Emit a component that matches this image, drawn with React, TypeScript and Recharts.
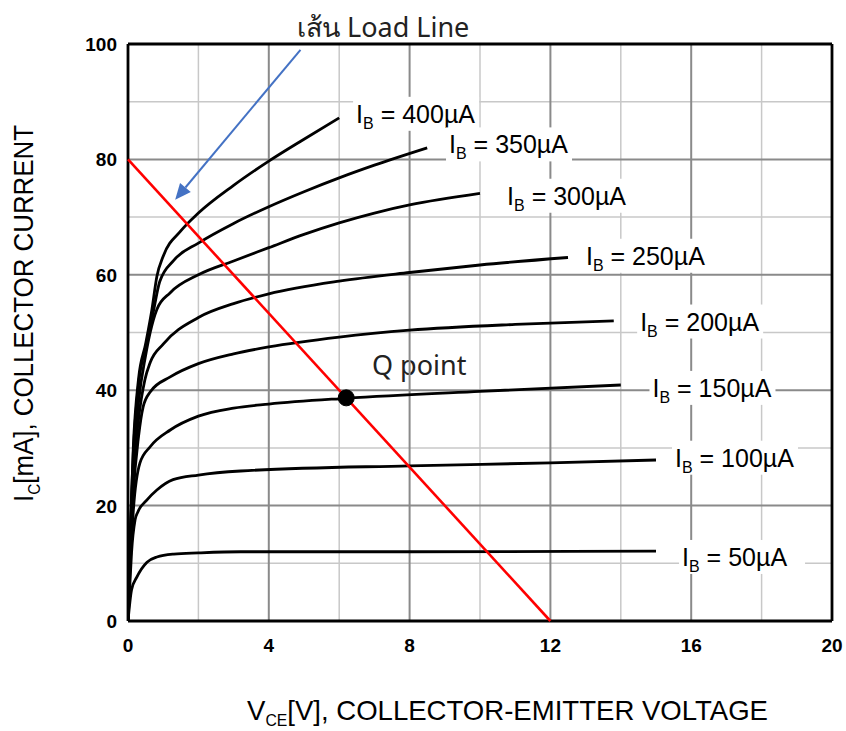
import React from 'react';
import {
  LineChart,
  Line,
  XAxis,
  YAxis,
  CartesianGrid,
  ReferenceLine,
  ReferenceDot,
  Customized,
} from 'recharts';

// axis ticks
const vTicks = [0, 4, 8, 12, 16, 20];
const iTicks = [0, 20, 40, 60, 80, 100];
const vMinor = [2, 6, 10, 14, 18];
const iMinor = [10, 30, 50, 70, 90];
const vMajor = [4, 8, 12, 16];
const iMajor = [20, 40, 60, 80];

// [VCE (V), IC (mA)]
const ib400 = [[0, 0], [0.05, 12], [0.15, 30], [0.3, 42], [0.5, 48], [0.68, 54], [0.82, 59.7], [1, 63.2], [1.5, 67.6], [2, 70.7], [3, 75.5], [4, 79.7], [5, 83.5], [6, 87.2]];
const ib350 = [[0, 0], [0.05, 12], [0.15, 29], [0.3, 41], [0.5, 47.5], [0.7, 53], [0.9, 58.8], [1.3, 62.5], [2, 65.5], [3, 68.9], [4, 71.8], [5, 74.4], [6, 76.8], [7, 79], [8.5, 82]];
const ib300 = [[0, 0], [0.05, 11], [0.15, 27], [0.3, 38], [0.5, 46], [0.63, 50], [0.82, 54], [1.2, 56.9], [2, 60], [3, 62.4], [4, 64.7], [5, 67], [6, 69], [7, 70.7], [8, 72.1], [10, 74.1]];
const ib250 = [[0, 0], [0.05, 10], [0.15, 25], [0.3, 35], [0.48, 41.8], [0.63, 44.8], [1, 48], [2, 52.6], [3, 55], [4, 56.7], [6, 58.9], [8, 60.4], [10, 61.7], [12.5, 63]];
const ib200 = [[0, 0], [0.05, 9], [0.15, 22], [0.3, 32], [0.43, 37.1], [0.63, 39.7], [1.2, 42.3], [2, 44.6], [3, 46.3], [4, 47.5], [6, 49.2], [8, 50.4], [11, 51.4], [13.8, 52]];
const ib150 = [[0, 0], [0.05, 8], [0.15, 19], [0.34, 27.4], [0.63, 30.2], [1.2, 33.1], [2, 35.5], [3, 36.9], [4, 37.6], [6.2, 38.6], [10, 39.8], [14, 40.9]];
const ib100 = [[0, 0], [0.05, 6], [0.1, 11.8], [0.2, 17.5], [0.28, 18.9], [0.54, 21], [0.82, 22.7], [1.28, 24.5], [2, 25.3], [3.2, 26], [8, 26.9], [12, 27.4], [15, 27.9]];
const ib50 = [[0, 0], [0.1, 5.4], [0.25, 7.6], [0.54, 10.2], [0.82, 11.1], [1.3, 11.6], [2, 11.8], [3.2, 12], [8, 12], [15, 12.1]];

const ibNames = ['400', '350', '300', '250', '200', '150', '100', '50'];
const ibSeries = [ib400, ib350, ib300, ib250, ib200, ib150, ib100, ib50];
// where each I_B label sits (left edge, middle), in V / mA
const ibLabelV = [6.48, 9.12, 10.77, 13.01, 14.55, 14.9, 15.54, 15.74];
const ibLabelI = [87.9, 82.6, 73.7, 63.3, 51.9, 40.4, 28.3, 11.1];

// load line: VCC = 12 V, IC(sat) = 80 mA ; Q point
const loadLine = [[0, 80], [12, 0]];
const qPoint = [6.2, 38.67];
const arrowFrom = [4.9, 99];
const arrowTo = [1.34, 73];

const toRows = (pts: number[][]) => pts.map(([v, i]) => ({ v, i }));

const sans = '"Liberation Sans", Arial, sans-serif';
const thin = '"Noto Sans", "Open Sans", sans-serif';

function IbLabel(props: any) {
  const { cx, cy, name } = props;
  if (cx == null || cy == null) return null;
  return (
    <g>
      <rect x={cx - 3} y={cy - 17} width={126} height={34} fill="#fff" />
      <text x={cx} y={cy + 9} fontFamily={sans} fontSize={25} fill="#000">
        <tspan>I</tspan>
        <tspan fontSize={16} dy={6}>B</tspan>
        <tspan dy={-6}>{` = ${name}\u00b5A`}</tspan>
      </text>
    </g>
  );
}

function XTick(props: any) {
  const { x, y, payload } = props;
  return (
    <text x={x} y={y + 14} textAnchor="middle" fontFamily={sans} fontSize={19} fontWeight={700} fill="#000">
      {payload.value}
    </text>
  );
}

function YTick(props: any) {
  const { x, y, payload } = props;
  return (
    <text x={x} y={y + 7} textAnchor="end" fontFamily={sans} fontSize={19} fontWeight={700} fill="#000">
      {payload.value}
    </text>
  );
}

function Arrow(props: any) {
  const { x1, y1, x2, y2 } = props;
  const ang = Math.atan2(y2 - y1, x2 - x1);
  const len = 16;
  const w = 7;
  const bx = x2 - len * Math.cos(ang);
  const by = y2 - len * Math.sin(ang);
  const px = -Math.sin(ang) * w;
  const py = Math.cos(ang) * w;
  return (
    <g>
      <line x1={x1} y1={y1} x2={bx} y2={by} stroke="#4472C4" strokeWidth={2} />
      <polygon points={`${x2},${y2} ${bx + px},${by + py} ${bx - px},${by - py}`} fill="#4472C4" />
    </g>
  );
}

function Texts() {
  return (
    <g>
      <text x={297} y={37} fontFamily={thin} fontSize={27} fill="#222">
        เส้น Load Line
      </text>
      <text x={372} y={375} fontFamily={thin} fontSize={27} fill="#222">
        Q point
      </text>
      <text
        x={247}
        y={720}
        fontFamily={sans}
        fontSize={28}
        fill="#000"
        textLength={521}
        lengthAdjust="spacingAndGlyphs"
      >
        <tspan>V</tspan>
        <tspan fontSize={16} dy={6}>CE</tspan>
        <tspan dy={-6}>[V], COLLECTOR-EMITTER VOLTAGE</tspan>
      </text>
      <text
        transform="translate(33,502) rotate(-90)"
        x={0}
        y={0}
        fontFamily={sans}
        fontSize={27}
        fill="#000"
        textLength={377}
        lengthAdjust="spacingAndGlyphs"
      >
        <tspan>I</tspan>
        <tspan fontSize={16} dy={7}>C</tspan>
        <tspan dy={-7}>[mA], COLLECTOR CURRENT</tspan>
      </text>
    </g>
  );
}

export default function App() {
  return (
    <div style={{ position: 'absolute', left: 0, top: 0, background: '#fff' }}>
      <LineChart width={846} height={731} margin={{ top: 44, right: 14, bottom: 0, left: 0 }}>
        <CartesianGrid
          stroke="#c8c8c8"
          strokeWidth={1.5}
          verticalValues={vMinor}
          horizontalValues={iMinor}
        />
        {vMajor.map((v) => (
          <ReferenceLine key={`vm${v}`} x={v} stroke="#8a8a8a" strokeWidth={2} />
        ))}
        {iMajor.map((i) => (
          <ReferenceLine key={`im${i}`} y={i} stroke="#8a8a8a" strokeWidth={2} />
        ))}
        <XAxis
          type="number"
          dataKey="v"
          domain={[0, 20]}
          ticks={vTicks}
          tick={<XTick />}
          tickLine={false}
          axisLine={false}
          tickSize={0}
          tickMargin={17}
          height={110}
          allowDataOverflow
        />
        <YAxis
          type="number"
          dataKey="i"
          domain={[0, 100]}
          ticks={iTicks}
          tick={<YTick />}
          tickLine={false}
          axisLine={false}
          tickSize={0}
          tickMargin={11}
          width={128}
          allowDataOverflow
        />
        <ReferenceLine x={0} stroke="#000" strokeWidth={2.8} />
        <ReferenceLine x={20} stroke="#000" strokeWidth={2.8} />
        <ReferenceLine y={0} stroke="#000" strokeWidth={2.8} />
        <ReferenceLine y={100} stroke="#000" strokeWidth={2.8} />
        {ibSeries.map((pts, k) => (
          <Line
            key={ibNames[k]}
            data={toRows(pts)}
            dataKey="i"
            type="monotone"
            stroke="#000"
            strokeWidth={2.8}
            dot={false}
            activeDot={false}
            isAnimationActive={false}
          />
        ))}
        <ReferenceLine
          segment={loadLine.map(([v, i]) => ({ x: v, y: i }))}
          stroke="#ff0000"
          strokeWidth={2.6}
        />
        <ReferenceLine
          segment={[
            { x: arrowFrom[0], y: arrowFrom[1] },
            { x: arrowTo[0], y: arrowTo[1] },
          ]}
          shape={(p: any) => <Arrow {...p} />}
        />
        <ReferenceDot x={qPoint[0]} y={qPoint[1]} r={8} fill="#000" stroke="#000" />
        {ibNames.map((n, k) => (
          <ReferenceDot
            key={`lab${n}`}
            x={ibLabelV[k]}
            y={ibLabelI[k]}
            r={1}
            shape={(p: any) => <IbLabel cx={p.cx} cy={p.cy} name={n} />}
          />
        ))}
        <Customized component={<Texts />} />
      </LineChart>
    </div>
  );
}
